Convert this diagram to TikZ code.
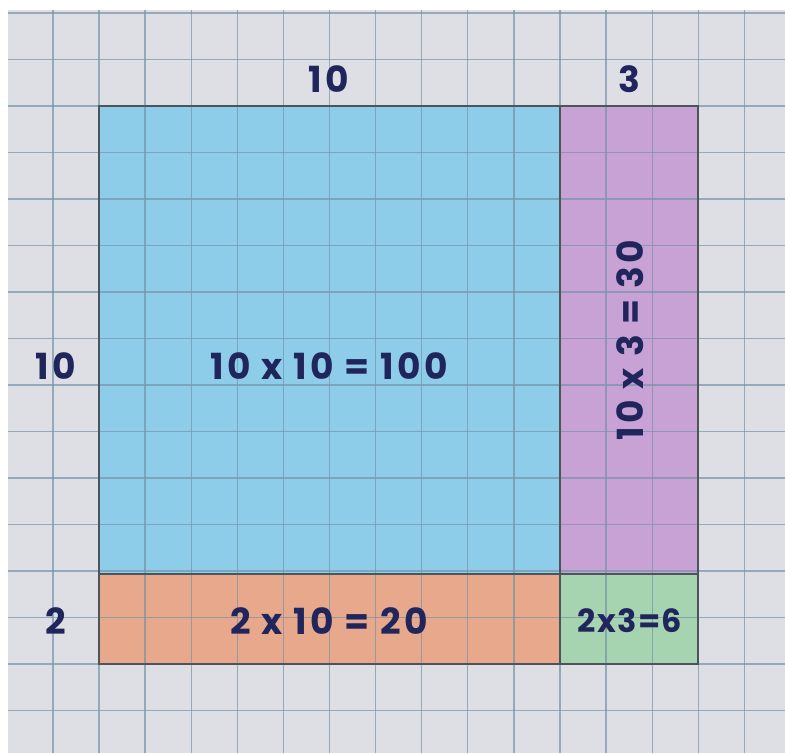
\documentclass[tikz,border=0pt]{standalone}
\usepackage{fontspec}
\setmainfont{Poppins}
\newfontfamily\handfont{Poppins}[LetterSpace=9]
\newfontfamily\handfonttight{Poppins}[LetterSpace=4]
\definecolor{paper}{RGB}{222,223,229}
\definecolor{gridc}{RGB}{118,148,170}
\definecolor{bluef}{RGB}{142,205,234}
\definecolor{purplef}{RGB}{200,162,212}
\definecolor{orangef}{RGB}{232,168,140}
\definecolor{greenf}{RGB}{166,212,176}
\definecolor{edgec}{RGB}{75,85,90}
\definecolor{ink}{RGB}{32,38,92}
\tikzset{
  gridline/.style={draw=gridc, line width=1.3pt, opacity=0.7},
  areabox/.style={draw=edgec, line width=1.6pt},
  lbl/.style={text=ink, font=\handfont\bfseries\fontsize{36}{40}\selectfont, inner sep=0pt},
  smalllbl/.style={text=ink, font=\handfonttight\bfseries\fontsize{32}{36}\selectfont, inner sep=0pt}
}
\begin{document}
\begin{tikzpicture}[x=1pt,y=-1pt]
\useasboundingbox (0,0) rectangle (785,753);
\fill[white] (0,0) rectangle (785,753);
\fill[paper] (8,10) rectangle (785,753);
% area fills
\fill[bluef] (99,106) rectangle (560,574);
\fill[purplef] (560,106) rectangle (698,574);
\fill[orangef] (99,574) rectangle (560,664);
\fill[greenf] (560,574) rectangle (698,664);
% grid
\foreach \k in {0,...,15} {
  \draw[gridline] ({52.9+46.1*\k},10) -- ({52.9+46.1*\k},753);
  \draw[gridline] (8,{13+46.5*\k}) -- (785,{13+46.5*\k});
}
% outlines
\draw[areabox] (99,106) rectangle (560,574);
\draw[areabox] (560,106) rectangle (698,574);
\draw[areabox] (99,574) rectangle (560,664);
\draw[areabox] (560,574) rectangle (698,664);
% labels
\node[lbl] (top10) at (329,79) {10};
\node[lbl] (top3) at (629,79) {3};
\node[lbl] (left10) at (56,366) {10};
\node[lbl] (left2) at (56,621) {2};
\node[lbl] (big) at (329,366) {10 x 10 = 100};
\node[lbl] (bottom) at (329,621) {2 x 10 = 20};
\node[lbl, rotate=90] (side) at (630,340) {10 x 3 = 30};
\node[smalllbl] (corner) at (630,621) {2x3=6};
\end{tikzpicture}
\end{document}
